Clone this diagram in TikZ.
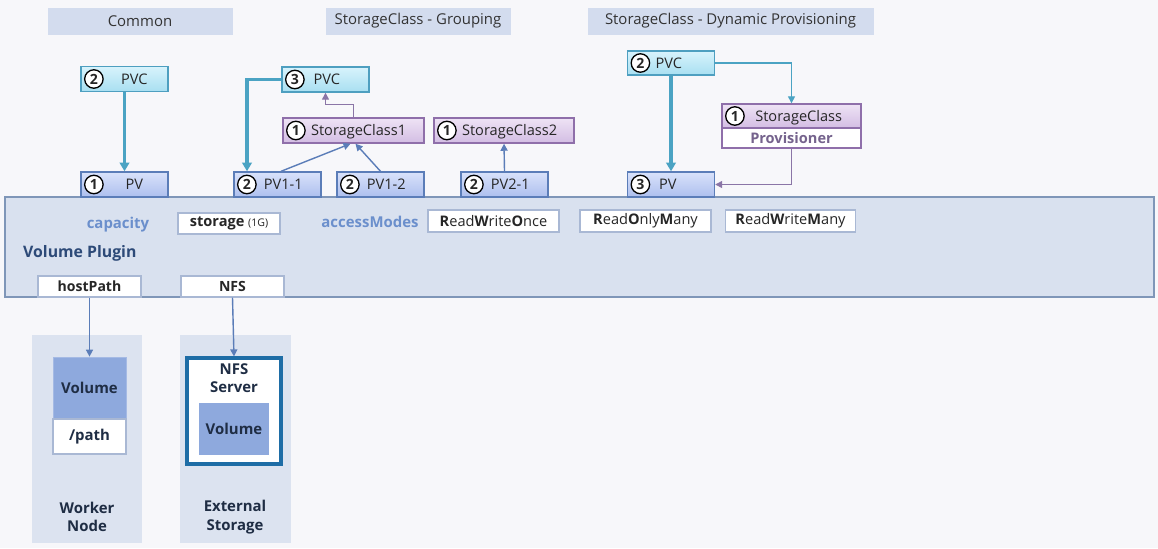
\documentclass[tikz,border=0pt]{standalone}
\usepackage{fontspec}
\setmainfont{Open Sans}
\usetikzlibrary{arrows.meta}
\newlength\px \setlength\px{0.02cm}
\definecolor{bgc}{HTML}{F7F7FA}
\definecolor{headc}{HTML}{D3DCEE}
\definecolor{pvctop}{HTML}{D8F3FC}
\definecolor{pvcbot}{HTML}{A8DFF1}
\definecolor{pvcline}{HTML}{4E9FC0}
\definecolor{pvtop}{HTML}{D9E2FA}
\definecolor{pvbot}{HTML}{ADBFEE}
\definecolor{pvline}{HTML}{5B7DB8}
\definecolor{sctop}{HTML}{EEE3F5}
\definecolor{scbot}{HTML}{D3BDE3}
\definecolor{scline}{HTML}{8F6FAA}
\definecolor{tealc}{HTML}{4BA3C3}
\definecolor{purpc}{HTML}{8A75A6}
\definecolor{panelc}{HTML}{D9E1EF}
\definecolor{panelline}{HTML}{7F96B8}
\definecolor{lightblue}{HTML}{6B8FCC}
\definecolor{navy}{HTML}{2D4A78}
\definecolor{smallline}{HTML}{A9B8D4}
\definecolor{lowpanel}{HTML}{DCE3F0}
\definecolor{volc}{HTML}{8EA9DD}
\definecolor{nfsline}{HTML}{1E6DA6}
\definecolor{darktext}{HTML}{1F2D44}
\newcommand\circnum[1]{\tikz[baseline=(cn.base)]\node[circle,draw=black,fill=white,line width=0.75pt,inner sep=0pt,minimum size=10.5pt,font=\bfseries\fontsize{8}{8}\selectfont] (cn) {#1};}

\begin{document}
\begin{tikzpicture}[x=0.02cm,y=-0.02cm,
    font=\fontsize{8.3}{9.8}\selectfont,
    head/.style={fill=headc,minimum width=185\px,minimum height=27\px,inner sep=0pt,text=black!80,font=\fontsize{8.5}{10}\selectfont},
    objbox/.style={line width=0.8pt,text width=#1,inner xsep=0.06cm,inner ysep=0pt,minimum height=25\px,text=black!85},
    pvcbox/.style={objbox=1.62cm,draw=pvcline,top color=pvctop,bottom color=pvcbot},
    pvbox/.style={objbox=1.62cm,draw=pvline,top color=pvtop,bottom color=pvbot},
    scbox/.style={objbox=#1,draw=scline,top color=sctop,bottom color=scbot},
    valbox/.style={draw=smallline,fill=white,line width=0.8pt,inner sep=0pt,minimum height=21\px,text=black!85},
    fatarrow/.style={draw=tealc,line width=1.8pt,-{Triangle[length=5pt,width=5.5pt]}},
    thinarrow/.style={line width=0.8pt,-{Triangle[length=4pt,width=4pt]}},
    bluetext/.style={font=\bfseries\fontsize{8.5}{10}\selectfont,text=lightblue},
    lowtext/.style={font=\bfseries\fontsize{8.5}{10.5}\selectfont,text=darktext,align=center}]

\useasboundingbox[fill=bgc] (0,0) rectangle (1158,548);

% headers
\node[head] (hcommon) at (140,21) {Common};
\node[head] (hgroup) at (418,21) {StorageClass - Grouping};
\node[head,minimum width=286\px] (hdyn) at (730.5,21) {StorageClass - Dynamic Provisioning};

% PV panel
\draw[fill=panelc,draw=panelline,line width=0.9pt] (5,197) rectangle (1154,297);
\node[bluetext] (cap) at (118,225) {capacity};
\node[valbox,minimum width=102\px] (stor) at (229,223.5) {\textbf{storage} {\fontsize{6}{7}\selectfont (1G)}};
\node[bluetext] (acc) at (370,222) {accessModes};
\node[valbox,minimum width=131\px,minimum height=22\px] (rwo) at (493.5,221) {\textbf{R}ead\textbf{W}rite\textbf{O}nce};
\node[valbox,minimum width=131\px,minimum height=22\px] (rom) at (645.5,221) {\textbf{R}ead\textbf{O}nly\textbf{M}any};
\node[valbox,minimum width=130\px,minimum height=22\px] (rwm) at (790.5,221) {\textbf{R}ead\textbf{W}rite\textbf{M}any};
\node[anchor=west,font=\bfseries\fontsize{9}{10.5}\selectfont,text=navy] (vplug) at (17,253) {Volume Plugin};
\node[valbox,minimum width=103\px,font=\bfseries\fontsize{8}{9.5}\selectfont] (hostp) at (89.5,286.5) {hostPath};
\node[valbox,minimum width=103\px,font=\bfseries\fontsize{8}{9.5}\selectfont] (nfs) at (232.5,286.5) {NFS};

% Common
\node[pvcbox] (pvcA) at (124.5,79) {\circnum{2}\hfill PVC\hfill\null};
\node[pvbox] (pvA) at (124.5,184.5) {\circnum{1}\hfill PV\hfill\null};
\draw[fatarrow] (pvcA) -- (pvA);

% Grouping
\node[pvcbox] (pvcB) at (325.5,79.5) {\circnum{3}\hspace{5pt}PVC};
\node[scbox=2.70cm] (scB1) at (353.5,130.5) {\circnum{1}\hspace{3pt}StorageClass1};
\node[scbox=2.68cm] (scB2) at (504,130.5) {\circnum{1}\hspace{3pt}StorageClass2};
\node[pvbox] (pvB11) at (277.5,184.5) {\circnum{2}\hspace{4pt}PV1-1};
\node[pvbox] (pvB12) at (380.5,184.5) {\circnum{2}\hspace{4pt}PV1-2};
\node[pvbox] (pvB21) at (504.5,184.5) {\circnum{2}\hspace{4pt}PV2-1};
\draw[fatarrow] (pvcB.west) -| ([xshift=-30.5\px]pvB11.north);
\draw[thinarrow,draw=purpc] (scB1.north) -- ++(0,-13) -| (pvcB.south);
\draw[thinarrow,draw=pvline] ([xshift=3.5\px]pvB11.north) -- ([xshift=-3\px]scB1.south);
\draw[thinarrow,draw=pvline] (pvB12.north) -- ([xshift=2\px]scB1.south);
\draw[thinarrow,draw=pvline] (pvB21.north) -- (scB2.south);

% Dynamic Provisioning
\node[pvcbox,minimum height=24\px] (pvcC) at (671,63) {\circnum{2}\hspace{3pt}PVC};
\node[scbox=2.66cm,minimum height=24\px] (scC) at (791.5,116) {\circnum{1}\hspace{6pt}StorageClass};
\node[draw=scline,fill=white,line width=0.8pt,minimum width=139\px,minimum height=20\px,inner sep=0pt,font=\bfseries\fontsize{8.3}{9.5}\selectfont,text=purpc!85!black] (provC) at (791.5,138) {Provisioner};
\node[pvbox] (pvC) at (671,184.5) {\circnum{3}\hspace{5pt}PV};
\draw[fatarrow] (pvcC) -- (pvC);
\draw[thinarrow,draw=tealc] (pvcC.east) -| (scC.north);
\draw[thinarrow,draw=purpc] (provC.south) |- (pvC.east);

% Worker Node / External Storage
\fill[lowpanel] (32,335) rectangle (142,543);
\fill[lowpanel] (180,335) rectangle (291,543);
\node[fill=volc,draw=volc!80!white,minimum width=73\px,minimum height=62\px,inner sep=0pt,lowtext] (volW) at (89.5,388) {Volume};
\node[fill=white,draw=smallline,line width=0.8pt,minimum width=73\px,minimum height=35\px,inner sep=0pt,lowtext] (pathW) at (89.5,436.5) {/path};
\node[lowtext] (worker) at (87,517) {Worker\\Node};
\node[fill=white,draw=nfsline,line width=1.8pt,minimum width=94\px,minimum height=106\px,inner sep=0pt] (nfsS) at (234,411) {};
\node[lowtext] (nfsT) at (234,378) {NFS\\Server};
\node[fill=volc,minimum width=70\px,minimum height=52\px,inner sep=0pt,lowtext] (volN) at (234,429) {Volume};
\node[lowtext] (ext) at (235,517) {External\\Storage};
\draw[thinarrow,draw=pvline] (hostp.south) -- (volW.north);
\draw[thinarrow,draw=pvline] (nfs.south) -- (nfsS.north);
\end{tikzpicture}
\end{document}
